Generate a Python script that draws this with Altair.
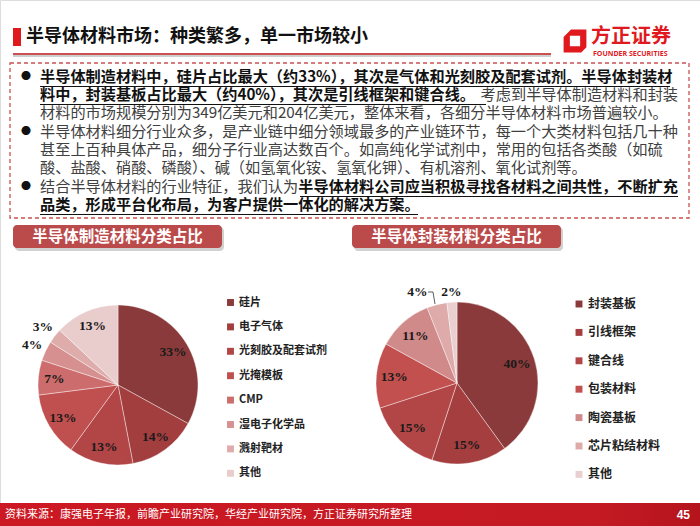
import altair as alt
import pandas as pd

FONT = "Noto Sans CJK SC"
SERIF = "Liberation Serif"

# ---------------- data ----------------
fab_categories = ["硅片", "电子气体", "光刻胶及配套试剂", "光掩模板", "CMP", "湿电子化学品", "溅射靶材", "其他"]
fab_values = [33, 14, 13, 13, 7, 4, 3, 13]
fab_colors = ["#8b3a3b", "#a33e3f", "#b24546", "#c04f4f", "#cc6c6c", "#d79090", "#dfacac", "#e9cccc"]

pkg_categories = ["封装基板", "引线框架", "键合线", "包装材料", "陶瓷基板", "芯片粘结材料", "其他"]
pkg_values = [40, 15, 15, 13, 11, 4, 2]
pkg_colors = ["#8b3a3b", "#a43e3f", "#b24646", "#c2504f", "#d08a8a", "#deaaaa", "#eacfd0"]

title_text = "半导体材料市场：种类繁多，单一市场较小"
fab_title = "半导体制造材料分类占比"
pkg_title = "半导体封装材料分类占比"
source_text = "资料来源：康强电子年报，前瞻产业研究院，华经产业研究院，方正证券研究所整理"
page_number = "45"

line1 = "半导体制造材料中，硅片占比最大（约33%），其次是气体和光刻胶及配套试剂。半导体封装材"
line2a = "料中，封装基板占比最大（约40%），其次是引线框架和键合线。"
line2b = "考虑到半导体制造材料和封装"
line3 = "材料的市场规模分别为349亿美元和204亿美元，整体来看，各细分半导体材料市场普遍较小。"
line4 = "半导体材料细分行业众多，是产业链中细分领域最多的产业链环节，每一个大类材料包括几十种"
line5 = "甚至上百种具体产品，细分子行业高达数百个。如高纯化学试剂中，常用的包括各类酸（如硫"
line6 = "酸、盐酸、硝酸、磷酸）、碱（如氢氧化铵、氢氧化钾）、有机溶剂、氧化试剂等。"
line7a = "结合半导体材料的行业特征，我们认为"
line7b = "半导体材料公司应当积极寻找各材料之间共性，不断扩充"
line8 = "品类，形成平台化布局，为客户提供一体化的解决方案。"

one = pd.DataFrame({"k": [0]})


def text(t, x, y, size, color, weight="normal", align="left", font=FONT, baseline="middle"):
    return alt.Chart(one).mark_text(
        text=t, align=align, baseline=baseline, font=font, fontSize=size,
        fontWeight=weight, color=color
    ).encode(x=alt.value(x), y=alt.value(y))


def rect(x, y, x2, y2, **kw):
    return alt.Chart(one).mark_rect(**kw).encode(
        x=alt.value(x), y=alt.value(y), x2=alt.value(x2), y2=alt.value(y2))


def rule(x, y, x2, y2, color, width=1.0, dash=None):
    kw = dict(color=color, strokeWidth=width)
    if dash:
        kw["strokeDash"] = dash
    return alt.Chart(one).mark_rule(**kw).encode(
        x=alt.value(x), y=alt.value(y), x2=alt.value(x2), y2=alt.value(y2))


def pie(cats, vals, colors, cx, cy, r, r_in, lx, ly, lsize, rowpad, outside):
    df = pd.DataFrame({"cat": cats, "value": vals, "idx": list(range(len(cats)))})
    base = alt.Chart(df).encode(
        theta=alt.Theta("value:Q", stack=True),
        order=alt.Order("idx:Q", sort="ascending"),
        x=alt.value(cx), y=alt.value(cy),
    )
    arc = base.mark_arc(outerRadius=r, stroke="#ffffff", strokeWidth=0.4).encode(
        color=alt.Color(
            "cat:N", sort=cats,
            scale=alt.Scale(domain=cats, range=colors),
            legend=alt.Legend(
                orient="none", legendX=lx, legendY=ly, title=None,
                symbolType="square", symbolSize=48, symbolStrokeWidth=0,
                labelFont=FONT, labelFontSize=lsize, labelFontWeight="bold",
                labelColor="#222222", rowPadding=rowpad, labelOffset=3,
                padding=0,
            ),
        )
    )
    layers = [arc]
    inner = base.transform_calculate(
        lbl="datum.value > 4 ? datum.value + '%' : ''"
    ).mark_text(radius=r_in, font=SERIF, fontSize=13.5, fontWeight="bold",
                color="#1a1a1a").encode(text="lbl:N")
    layers.append(inner)
    for cond, rad, dx, dy in outside:
        layers.append(
            base.transform_calculate(
                lbl="(" + cond + ") ? datum.value + '%' : ''"
            ).mark_text(radius=rad, dx=dx, dy=dy, font=SERIF, fontSize=13.5,
                        fontWeight="bold", color="#1a1a1a").encode(text="lbl:N")
        )
    return alt.layer(*layers)


layers = []

# ---------- header ----------
layers.append(rect(13, 28, 21, 46, color="#e0191f"))
layers.append(text(title_text, 26, 37, 18, "#111111", weight="bold"))
layers.append(rule(13, 56, 551, 56, "#bfbfbf", 1.5))
layers.append(rule(13, 54, 551, 54, "#c9514f", 2.2))
logo_path = ("M -0.35 -1 L 1 -1 L 1 0.55 L 0.55 1 L -1 1 L -1 -0.35 Z "
             "M -0.45 -0.45 L -0.45 0.45 L 0.45 0.45 L 0.45 -0.45 Z")
layers.append(
    alt.Chart(one).mark_point(shape=logo_path, filled=True, size=520, color="#e0191f", opacity=1)
    .encode(x=alt.value(575), y=alt.value(41))
)
layers.append(text("方正证券", 591, 37, 20, "#e0191f", weight="bold"))
layers.append(text("FOUNDER SECURITIES", 593, 54, 7, "#e0191f", weight="bold", font="Open Sans"))

# ---------- bullet box ----------
layers.append(rect(10, 63, 689, 218, fillOpacity=0, stroke="#c9514f",
                   strokeWidth=1.3, strokeDash=[4, 3]))
BS = 15.2
DARK = "#111111"
GREY = "#404040"
ys = [77, 95, 113, 132, 150, 168, 187, 205]
for yb in (ys[0], ys[3], ys[6]):
    layers.append(text("●", 26, yb, 10, DARK, align="center"))
layers.append(text(line1, 40, ys[0], BS, DARK, weight="bold"))
layers.append(text(line2a, 40, ys[1], BS, DARK, weight="bold"))
layers.append(text(line2b, 678, ys[1], BS, GREY, align="right"))
layers.append(text(line3, 40, ys[2], BS, GREY))
layers.append(text(line4, 40, ys[3], BS, GREY))
layers.append(text(line5, 40, ys[4], BS, GREY))
layers.append(text(line6, 40, ys[5], BS, GREY))
layers.append(text(line7a, 40, ys[6], BS, GREY))
layers.append(text(line7b, 678, ys[6], BS, DARK, weight="bold", align="right"))
layers.append(text(line8, 40, ys[7], BS, DARK, weight="bold"))
UL = 9.5
layers.append(rule(40, ys[0] + UL, 670, ys[0] + UL, DARK, 1.1))
layers.append(rule(40, ys[1] + UL, 486, ys[1] + UL, DARK, 1.1))
layers.append(rule(300, ys[6] + UL, 678, ys[6] + UL, DARK, 1.1))
layers.append(rule(40, ys[7] + UL, 418, ys[7] + UL, DARK, 1.1))

# ---------- section banners ----------
for bx, t in ((13, fab_title), (352, pkg_title)):
    layers.append(rect(bx + 2, 227, bx + 211, 251, color="#9a9a9a", opacity=0.45, cornerRadius=4))
    layers.append(rect(bx, 225, bx + 209, 248, color="#bb4a4b", cornerRadius=4))
    layers.append(text(t, bx + 104.5, 237, 15.5, "#ffffff", weight="bold", align="center"))

# ---------- pies ----------
left = pie(fab_categories, fab_values, fab_colors, 118, 385, 80, 64,
           225, 297, 11, 12.4,
           [("datum.value <= 4", 95, 0, 0)])
right = pie(pkg_categories, pkg_values, pkg_colors, 457, 383, 81, 63,
            573, 298, 12, 16.4,
            [("datum.cat == '芯片粘结材料'", 99, -15, 5),
             ("datum.cat == '其他'", 91, 0, 0)])
layers.append(left)
layers.append(right)
# leader line for the 4% label
layers.append(rule(428, 292, 433, 292, "#333333", 0.8))
layers.append(rule(433, 292, 435, 304, "#333333", 0.8))

# ---------- footer ----------
layers.append(rect(0, 503, 700, 526, color=alt.Gradient(
    gradient="linear",
    stops=[alt.GradientStop(color="#cc1822", offset=0),
           alt.GradientStop(color="#c41a24", offset=0.85),
           alt.GradientStop(color="#b5141d", offset=1)],
    x1=0, x2=1, y1=0, y2=0)))
layers.append(text(source_text, 5, 515, 11, "#ffffff"))
layers.append(text(page_number, 690, 515, 12, "#ffffff", weight="bold", align="right", font="Liberation Sans"))

chart = alt.layer(*layers).resolve_scale(color="independent").properties(
    width=700, height=526, padding=0, autosize="none"
).configure_view(stroke=None).configure(background="#ffffff")

chart.save("out.html", embed_options={"renderer": "svg", "actions": False})
